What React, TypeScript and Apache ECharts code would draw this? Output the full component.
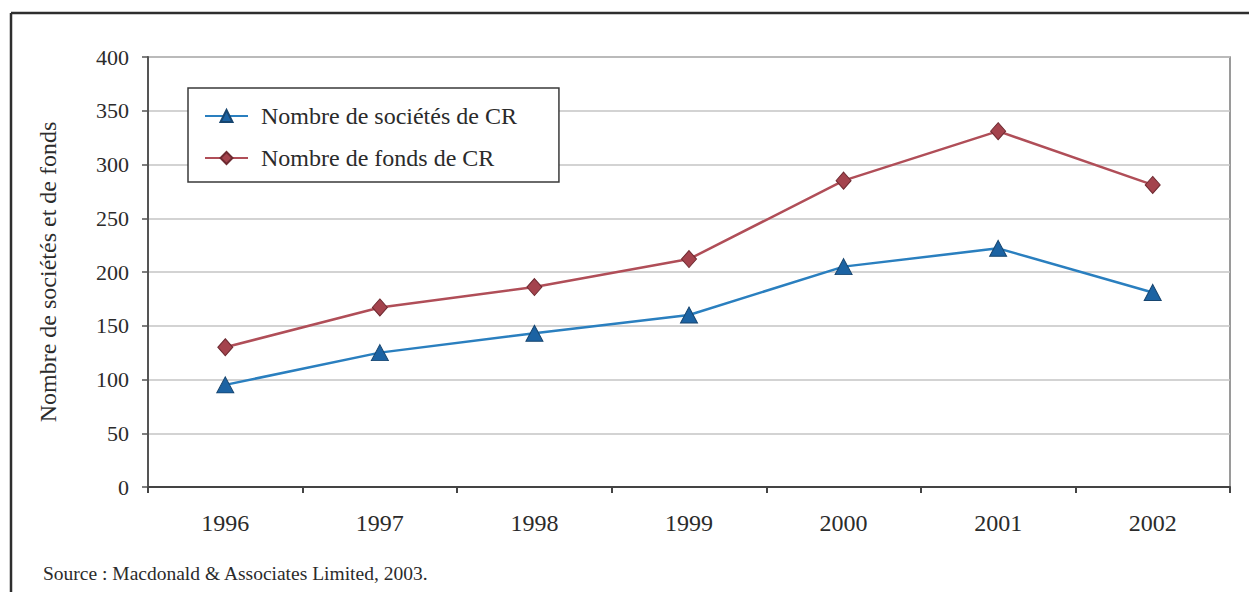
import React, { useEffect, useRef } from "react";
import * as echarts from "echarts";

const years = ["1996", "1997", "1998", "1999", "2000", "2001", "2002"];
const societes = [95, 125, 143, 160, 205, 222, 181];
const fonds = [130, 167, 186, 212, 285, 331, 281];
const seriesNames = ["Nombre de sociétés de CR", "Nombre de fonds de CR"];
const yTitle = "Nombre de sociétés et de fonds";
const sourceText = "Source : Macdonald & Associates Limited, 2003.";

const FONT = "Liberation Serif, Times New Roman, serif";
const TXT = "#2b2b2b";

export default function App() {
  const ref = useRef<HTMLDivElement>(null);
  useEffect(() => {
    if (!ref.current) return;
    const chart = echarts.init(ref.current, null, { renderer: "svg" });
    chart.setOption({
      animation: false,
      backgroundColor: "#ffffff",
      textStyle: { fontFamily: FONT, color: TXT },
      grid: {
        left: 148,
        right: 19,
        top: 57,
        bottom: 105,
        show: true,
        borderColor: "#7a7a7a",
        borderWidth: 1.5,
        backgroundColor: "#ffffff",
      },
      legend: {
        orient: "vertical",
        left: 188,
        top: 88,
        padding: [16, 42, 12, 16],
        itemGap: 18,
        itemWidth: 43,
        itemHeight: 15,
        borderColor: "#3a3a3a",
        borderWidth: 1.5,
        backgroundColor: "#ffffff",
        textStyle: { fontFamily: FONT, fontSize: 24, color: TXT, padding: [0, 0, 0, 8] },
        data: seriesNames,
      },
      xAxis: {
        type: "category",
        data: years,
        boundaryGap: true,
        axisLine: { lineStyle: { color: "#444", width: 2 } },
        axisTick: { show: true, length: 6, interval: 0, lineStyle: { color: "#444", width: 2 } },
        axisLabel: { fontFamily: FONT, fontSize: 24, color: TXT, margin: 24 },
        splitLine: { show: false },
      },
      yAxis: {
        type: "value",
        min: 0,
        max: 400,
        interval: 50,
        name: yTitle,
        nameLocation: "middle",
        nameRotate: 90,
        nameGap: 88,
        nameTextStyle: { fontFamily: FONT, fontSize: 24, color: TXT },
        axisLine: { show: true, lineStyle: { color: "#555", width: 2 } },
        axisTick: { show: true, length: 6, lineStyle: { color: "#555", width: 1.5 } },
        axisLabel: { fontFamily: FONT, fontSize: 22, color: TXT, margin: 19 },
        splitLine: { show: true, lineStyle: { color: "#c4c4c4", width: 1.5 } },
      },
      series: [
        {
          name: seriesNames[0],
          type: "line",
          data: societes,
          symbol: "triangle",
          symbolSize: [17, 16],
          lineStyle: { color: "#2a7fbf", width: 2.5 },
          itemStyle: { color: "#1c63a3", borderColor: "#17456f", borderWidth: 1 },
        },
        {
          name: seriesNames[1],
          type: "line",
          data: fonds,
          symbol: "diamond",
          symbolSize: [15, 17],
          lineStyle: { color: "#b04e58", width: 2.5 },
          itemStyle: { color: "#a4434d", borderColor: "#6e2a31", borderWidth: 1 },
        },
      ],
      graphic: [
        {
          type: "line",
          shape: { x1: 11, y1: 13, x2: 1249, y2: 13 },
          style: { stroke: "#2e2e2e", lineWidth: 2.5 },
        },
        {
          type: "line",
          shape: { x1: 11, y1: 13, x2: 11, y2: 592 },
          style: { stroke: "#2e2e2e", lineWidth: 2.5 },
        },
        {
          type: "text",
          left: 43,
          top: 563,
          style: { text: sourceText, font: `19.5px ${FONT}`, fill: TXT },
        },
      ],
    });
    return () => chart.dispose();
  }, []);
  return (
    <div
      ref={ref}
      style={{ position: "fixed", left: 0, top: 0, width: 1249, height: 592 }}
    />
  );
}
